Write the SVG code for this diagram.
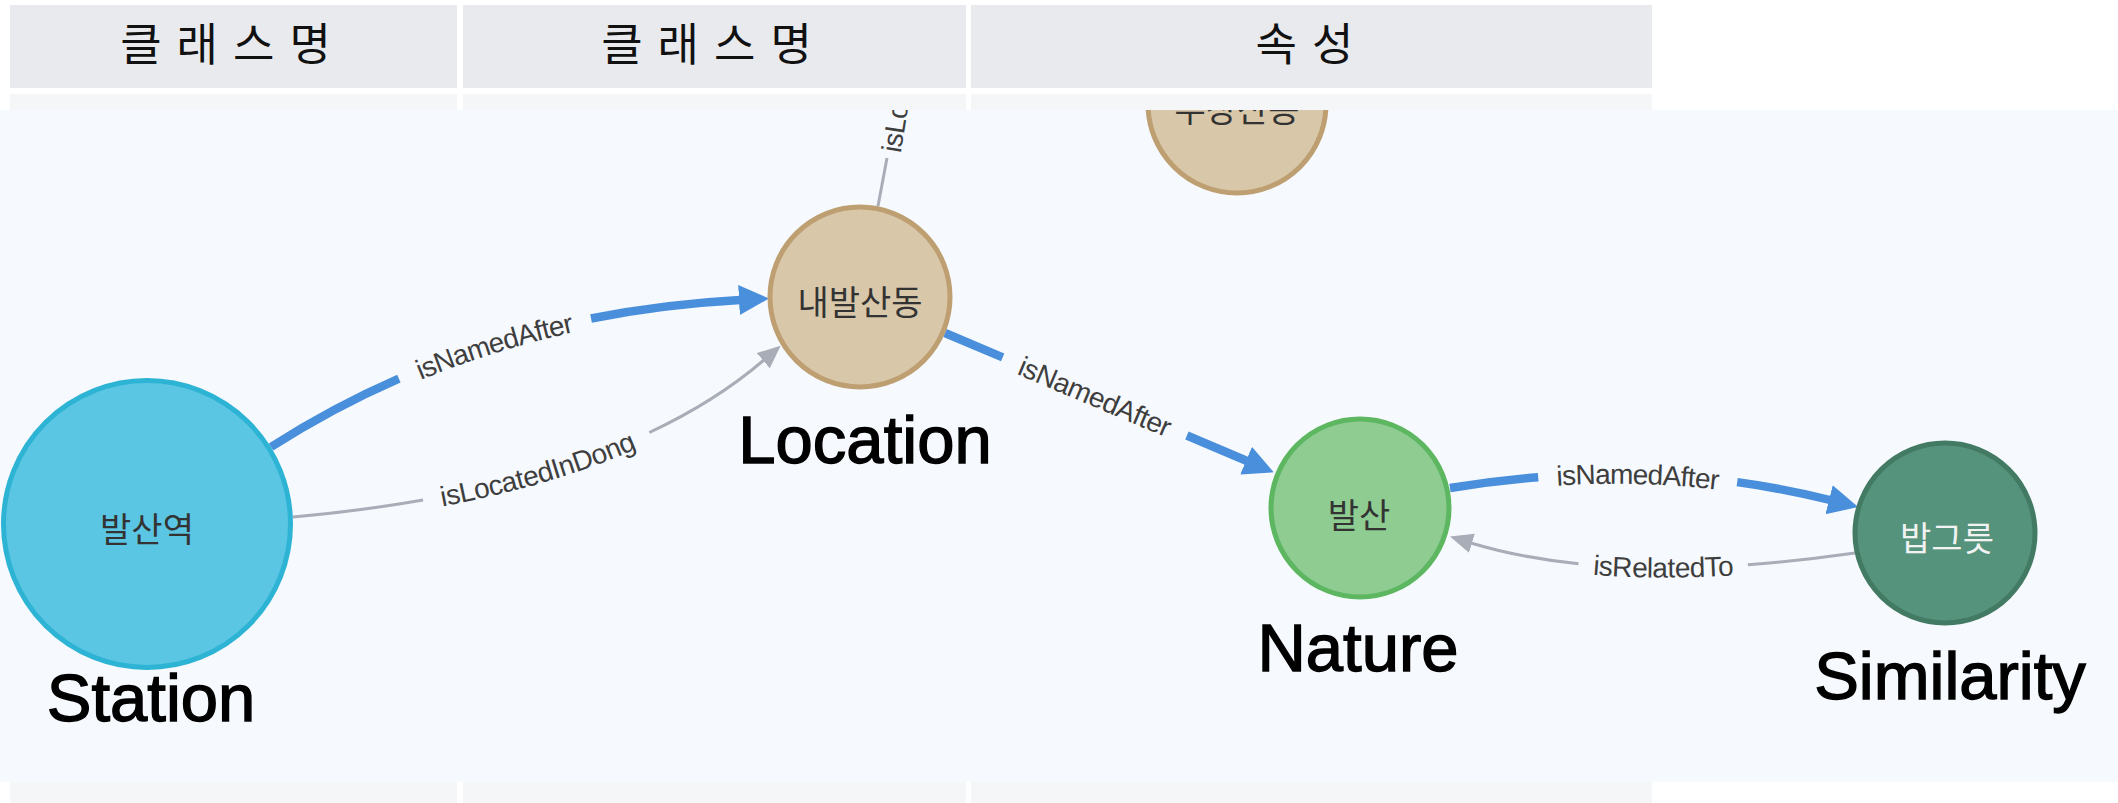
<svg xmlns="http://www.w3.org/2000/svg" width="2118" height="803" viewBox="0 0 2118 803">
<defs>
<style>
.hdr{fill:#E9EAEE}
.row{fill:#F5F6F8}
.htxt{font-family:"Noto Sans CJK KR","Noto Sans",sans-serif;font-size:45px;letter-spacing:15px;fill:#111;text-anchor:middle}
.ntxt{font-family:"Noto Sans CJK KR","Noto Sans",sans-serif;font-size:34px;fill:#333;text-anchor:middle}
.cls{font-family:"Liberation Sans",Arial,sans-serif;font-size:67px;fill:#000;stroke:#000;stroke-width:1.4px;text-anchor:middle}
.elab{font-family:"Liberation Sans",Arial,sans-serif;font-size:28px;fill:#3E3E3E;letter-spacing:-0.6px}
.eb{fill:none;stroke:#4A8FDB;stroke-width:8.5}
.eg{fill:none;stroke:#A8ADB7;stroke-width:3}
</style>
<marker id="ab" markerUnits="userSpaceOnUse" markerWidth="32" markerHeight="32" refX="1" refY="15" orient="auto"><path d="M0,0 L30,15 L0,30 z" fill="#4A8FDB"/></marker>
<marker id="ag" markerUnits="userSpaceOnUse" markerWidth="24" markerHeight="22" refX="1" refY="10" orient="auto-start-reverse"><path d="M0,0 L23,10 L0,20 z" fill="#A8ADB7"/></marker>
<clipPath id="panel"><rect x="0" y="110" width="2118" height="672"/></clipPath>
<path id="p1" d="M271,447 Q479,314 740,300"/>
<path id="p2" d="M293,517 Q615,488 764,360"/>
<path id="p3" d="M945,333 L1247,461"/>
<path id="p4" d="M1450,488 Q1650,455 1830,500"/>
<path id="p5" d="M1471,543 Q1616,587 1855,553"/>
</defs>
<rect width="2118" height="803" fill="#FFFFFF"/>
<g id="table">
<rect class="row" x="10" y="94" width="447" height="709"/>
<rect class="row" x="463" y="94" width="503" height="709"/>
<rect class="row" x="971" y="94" width="681" height="709"/>
<rect class="hdr" x="10" y="5" width="447" height="83"/>
<rect class="hdr" x="463" y="5" width="503" height="83"/>
<rect class="hdr" x="971" y="5" width="681" height="83"/>
<text class="htxt" x="233" y="61">클래스명</text>
<text class="htxt" x="714" y="61">클래스명</text>
<text class="htxt" x="1312" y="61">속성</text>
</g>
<rect id="panel-bg" x="0" y="110" width="2118" height="672" fill="#F6F9FD"/>
<g id="connectors">
<path class="eb" d="M271,447 Q479,314 740,300" pathLength="100" stroke-dasharray="29.2 40.6 100" marker-end="url(#ab)"/>
<text class="elab" dy="0.35em"><textPath href="#p1" startOffset="49.5%" text-anchor="middle">isNamedAfter</textPath></text>
<path class="eg" d="M293,517 Q615,488 764,360" pathLength="100" stroke-dasharray="26 47 100" marker-end="url(#ag)"/>
<text class="elab" dy="0.35em"><textPath href="#p2" startOffset="49.5%" text-anchor="middle">isLocatedInDong</textPath></text>
<path class="eb" d="M945,333 L1247,461" pathLength="100" stroke-dasharray="19.1 61 100" marker-end="url(#ab)"/>
<text class="elab" dy="0.35em"><textPath href="#p3" startOffset="49.6%" text-anchor="middle">isNamedAfter</textPath></text>
<path class="eb" d="M1450,488 Q1650,455 1830,500" pathLength="100" stroke-dasharray="23.2 52.1 100" marker-end="url(#ab)"/>
<text class="elab" dy="0.35em"><textPath href="#p4" startOffset="49.2%" text-anchor="middle">isNamedAfter</textPath></text>
<path class="eg" d="M1471,543 Q1616,587 1855,553" pathLength="100" stroke-dasharray="28.4 43.8 100" marker-start="url(#ag)"/>
<text class="elab" dy="0.35em"><textPath href="#p5" startOffset="50.3%" text-anchor="middle">isRelatedTo</textPath></text>
<g clip-path="url(#panel)">
<path class="eg" d="M878,206 L887,158"/>
<text class="elab" x="891" y="152" dy="0.35em" transform="rotate(-81 891 152)">isLo</text>
</g>
</g>
<g id="node-ujangsan" clip-path="url(#panel)">
<circle cx="1237" cy="104" r="89" fill="#D9C7AA" stroke="#BE9F71" stroke-width="5"/>
<text class="ntxt" x="1237" y="122">우장산동</text>
</g>
<g id="node-station">
<circle cx="147" cy="524" r="143.5" fill="#5BC6E3" stroke="#2DB3D4" stroke-width="5"/>
<text class="ntxt" x="147" y="542">발산역</text>
<text class="cls" x="151" y="721">Station</text>
</g>
<g id="node-location">
<circle cx="860" cy="297" r="90" fill="#D9C7AA" stroke="#BE9F71" stroke-width="5"/>
<text class="ntxt" x="860" y="315">내발산동</text>
<text class="cls" x="865" y="463">Location</text>
</g>
<g id="node-nature">
<circle cx="1360" cy="508" r="89" fill="#8ECC92" stroke="#5DB660" stroke-width="5"/>
<text class="ntxt" x="1359" y="528">발산</text>
<text class="cls" x="1358" y="671">Nature</text>
</g>
<g id="node-similarity">
<circle cx="1945" cy="533" r="90" fill="#56937C" stroke="#427A63" stroke-width="5"/>
<text class="ntxt" x="1947" y="551" style="fill:#F2F2F2">밥그릇</text>
<text class="cls" x="1950" y="699">Similarity</text>
</g>
</svg>
